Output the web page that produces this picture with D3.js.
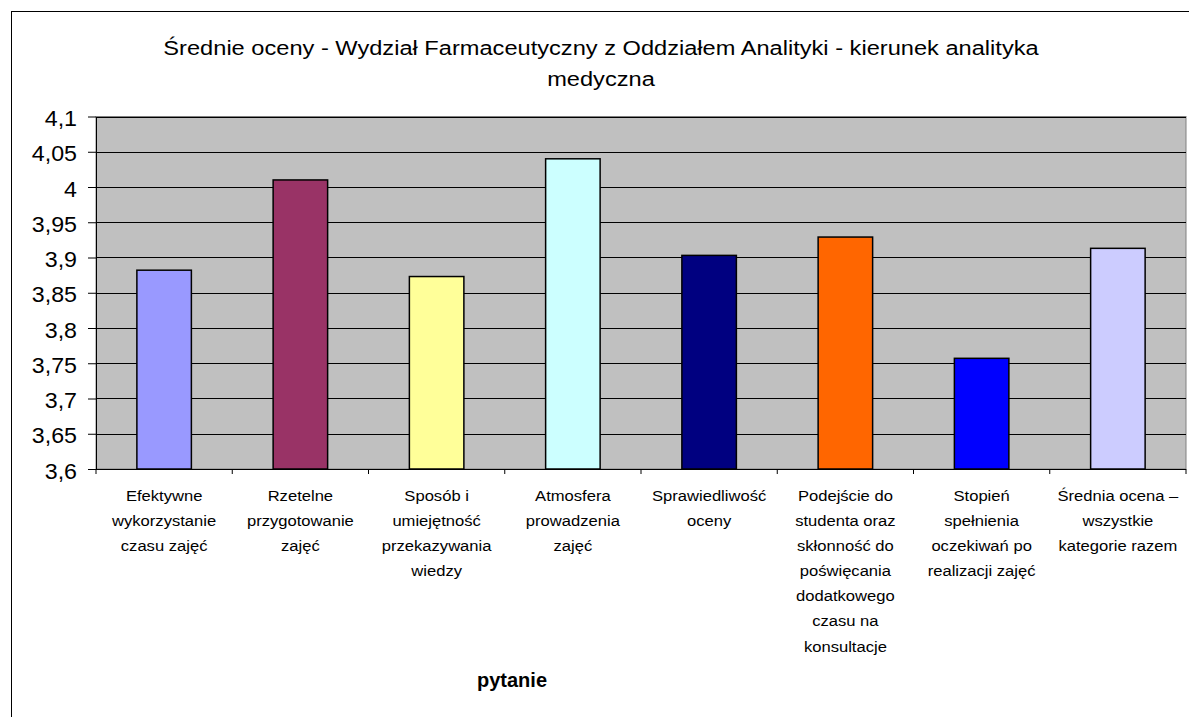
<!DOCTYPE html>
<html><head><meta charset="utf-8">
<script src="https://cdn.jsdelivr.net/npm/d3@7/dist/d3.min.js"></script>
<style>body{margin:0;background:#fff}svg{display:block;font-family:"Liberation Sans",Arial,sans-serif}</style>
</head><body><svg id="c" width="1189" height="717"></svg>
<script>
const titleLines = ["Średnie oceny - Wydział Farmaceutyczny z Oddziałem Analityki - kierunek analityka", "medyczna"];
const categories = [
  ["Efektywne","wykorzystanie","czasu zajęć"],
  ["Rzetelne","przygotowanie","zajęć"],
  ["Sposób i","umiejętność","przekazywania","wiedzy"],
  ["Atmosfera","prowadzenia","zajęć"],
  ["Sprawiedliwość","oceny"],
  ["Podejście do","studenta oraz","skłonność do","poświęcania","dodatkowego","czasu na","konsultacje"],
  ["Stopień","spełnienia","oczekiwań po","realizacji zajęć"],
  ["Średnia ocena –","wszystkie","kategorie razem"]
];
const values = [3.882, 4.010, 3.873, 4.040, 3.903, 3.929, 3.757, 3.913];
const colors = ["#9999FF","#993366","#FFFF99","#CCFFFF","#000080","#FF6600","#0000FF","#CCCCFF"];
const yTicks = [3.6,3.65,3.7,3.75,3.8,3.85,3.9,3.95,4,4.05,4.1];
const xTitle = "pytanie";

const svg = d3.select("#c");
const L = 96, R = 1186, T = 116.5, B = 469;
svg.append("rect").attr("x",11.5).attr("y",11.5).attr("width",1190).attr("height",720)
  .attr("fill","#fff").attr("stroke","#000").attr("stroke-width",1);

const x = d3.scaleBand().domain(d3.range(categories.length)).range([L,R]).paddingInner(0.6).paddingOuter(0.3);
const xb = d3.scaleBand().domain(d3.range(categories.length)).range([L,R]);
const y = d3.scaleLinear().domain([3.6,4.1]).range([B,T]);

svg.append("rect").attr("x",L).attr("y",T).attr("width",R-L).attr("height",B-T)
  .attr("fill","#C0C0C0").attr("stroke","#808080");

svg.append("g").selectAll("line").data(yTicks).join("line")
  .attr("x1",L).attr("x2",R).attr("y1",d=>Math.round(y(d))+0.5).attr("y2",d=>Math.round(y(d))+0.5)
  .attr("stroke","#000").attr("stroke-width",1);

svg.append("g").selectAll("rect").data(values).join("rect")
  .attr("x",(d,i)=>x(i)).attr("y",d=>y(d)).attr("width",x.bandwidth()).attr("height",d=>B-y(d))
  .attr("fill",(d,i)=>colors[i]).attr("stroke","#000").attr("stroke-width",1.5);

// y axis
const ya = d3.axisLeft(y).tickValues(yTicks).tickSize(8).tickSizeOuter(0).tickFormat("");
const gy = svg.append("g").attr("transform",`translate(${L},0)`).call(ya);
gy.selectAll("line,path").attr("stroke","#000");
gy.selectAll(".tick").append("text")
  .attr("transform","translate(-19,1.5) scale(1.08,1)")
  .attr("text-anchor","end").attr("dy","0.35em").attr("font-size","21.5px").attr("fill","#000")
  .attr("font-family","Liberation Sans, Arial, sans-serif")
  .text(d=>String(d).replace(".",","));

// x axis
const gx = svg.append("g").attr("transform",`translate(0,${B})`);
gx.append("line").attr("x1",L-8).attr("x2",R).attr("y1",0.5).attr("y2",0.5).attr("stroke","#000");
gx.selectAll("line.t").data(d3.range(categories.length+1)).join("line").attr("class","t")
  .attr("x1",i=>i<categories.length?xb(i):R).attr("x2",i=>i<categories.length?xb(i):R)
  .attr("y1",0).attr("y2",5).attr("stroke","#000");
categories.forEach((lines,i)=>{
  const cx = xb(i)+xb.bandwidth()/2;
  const t = gx.append("text").attr("text-anchor","middle").attr("font-size","15.5px").attr("fill","#000")
    .attr("transform",`translate(${cx},31.5) scale(1.07,1)`);
  lines.forEach((s,j)=>t.append("tspan").attr("x",0).attr("dy",j?25.2:0).text(s));
});

svg.append("text").attr("x",512).attr("y",687).attr("text-anchor","middle").attr("font-size","20px")
  .attr("font-weight","bold").text(xTitle);

titleLines.forEach((s,j)=>svg.append("text")
  .attr("transform",`translate(601,${54.5+j*31}) scale(1.125,1)`).attr("text-anchor","middle")
  .attr("font-size","21px").text(s));
</script></body></html>
